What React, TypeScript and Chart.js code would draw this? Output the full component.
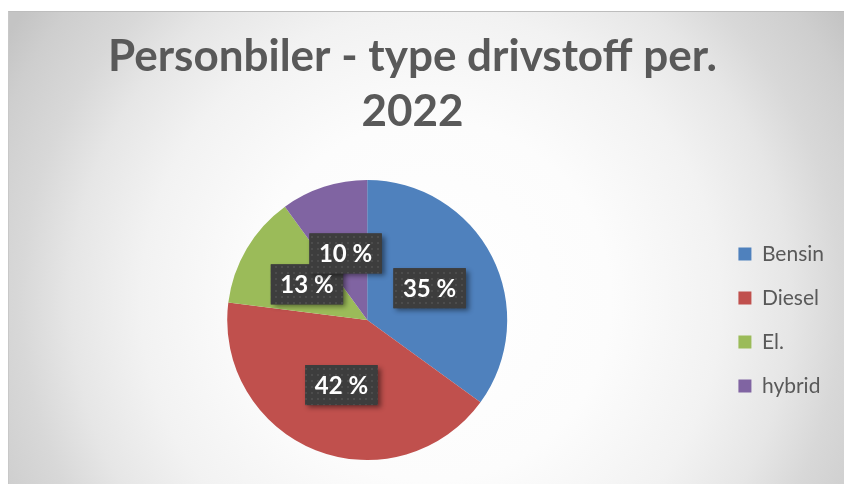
import React, { useEffect, useRef } from "react";
import { Chart, registerables } from "chart.js";

Chart.register(...registerables);

const titleLines = ["Personbiler - type drivstoff per.", "2022"];
const categories = ["Bensin", "Diesel", "El.", "hybrid"];
const shares = [35, 42, 13, 10];
const colors = ["#4F81BD", "#C0504D", "#9BBB59", "#8064A2"];

const FONT = "Lato, 'Open Sans', 'DejaVu Sans', sans-serif";

function makePattern(ctx: CanvasRenderingContext2D) {
  const c = document.createElement("canvas");
  c.width = 6;
  c.height = 6;
  const p = c.getContext("2d")!;
  p.fillStyle = "#3d3d3d";
  p.fillRect(0, 0, 6, 6);
  p.fillStyle = "#4c4c4c";
  p.fillRect(2, 2, 2, 2);
  return ctx.createPattern(c, "repeat")!;
}

const titlePlugin = {
  id: "customTitle",
  afterDraw(chart: any) {
    const ctx = chart.ctx as CanvasRenderingContext2D;
    ctx.save();
    ctx.fillStyle = "#595959";
    ctx.font = `bold 44px ${FONT}`;
    ctx.textAlign = "center";
    ctx.textBaseline = "alphabetic";
    const cx = chart.width / 2 - 14;
    titleLines.forEach((line, i) => {
      ctx.fillText(line, cx, 59 + i * 55);
    });
    ctx.restore();
  },
};

const labelPlugin = {
  id: "boxLabels",
  afterDatasetsDraw(chart: any) {
    const ctx = chart.ctx as CanvasRenderingContext2D;
    const meta = chart.getDatasetMeta(0);
    const pattern = makePattern(ctx);
    ctx.save();
    ctx.font = `bold 24px ${FONT}`;
    meta.data.forEach((arc: any, i: number) => {
      const pos = arc.tooltipPosition();
      const text = `${shares[i]} %`;
      const tw = ctx.measureText(text).width;
      const w = tw + 19;
      const h = 40;
      const x = pos.x - w / 2;
      const y = pos.y - h / 2;
      ctx.save();
      ctx.shadowColor = "rgba(0,0,0,0.45)";
      ctx.shadowBlur = 5;
      ctx.shadowOffsetX = 3;
      ctx.shadowOffsetY = 3;
      ctx.fillStyle = "#3d3d3d";
      ctx.fillRect(x, y, w, h);
      ctx.restore();
      ctx.fillStyle = pattern;
      ctx.fillRect(x, y, w, h);
      ctx.fillStyle = "#ffffff";
      ctx.textAlign = "center";
      ctx.textBaseline = "middle";
      ctx.fillText(text, pos.x, pos.y + 1);
    });
    ctx.restore();
  },
};

export default function App() {
  const ref = useRef<HTMLCanvasElement | null>(null);
  useEffect(() => {
    document.documentElement.style.overflow = "hidden";
    document.body.style.overflow = "hidden";
    if (!ref.current) return;
    const chart = new Chart(ref.current, {
      type: "pie",
      data: {
        labels: categories,
        datasets: [
          {
            data: shares,
            backgroundColor: colors,
            borderWidth: 0,
            hoverOffset: 0,
            offset: 0,
          },
        ],
      },
      options: {
        animation: false,
        responsive: false,
        maintainAspectRatio: false,
        layout: { padding: { top: 168, bottom: 24, left: 10, right: 10 } },
        plugins: {
          title: { display: false },
          tooltip: { enabled: false },
          legend: {
            position: "right",
            labels: {
              boxWidth: 13,
              boxHeight: 13,
              padding: 23,
              color: "#595959",
              font: { family: FONT, size: 21 },
            },
          },
        },
      },
      plugins: [titlePlugin, labelPlugin],
    });
    return () => chart.destroy();
  }, []);
  return (
    <div
      style={{
        position: "absolute",
        left: 8,
        top: 11,
        width: 836,
        height: 473,
        borderTop: "1px solid #bdbdbd",
        borderLeft: "1px solid #c8c8c8",
        boxSizing: "border-box",
        background:
          "radial-gradient(circle at 422px 289px, #ffffff 0px, #fcfcfc 180px, #f2f2f2 290px, #e6e6e6 360px, #d8d8d8 410px, #cecece 465px, #c4c4c4 500px)",
      }}
    >
      <canvas ref={ref} width={835} height={472} style={{ display: "block" }} />
    </div>
  );
}
